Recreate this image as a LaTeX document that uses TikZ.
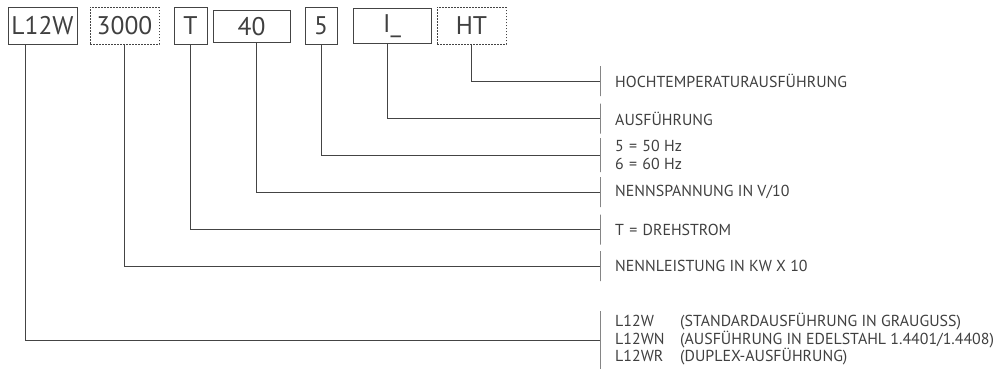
\documentclass[tikz,border=0pt]{standalone}
\usepackage{fontspec}
\setmainfont{PT Sans}
\definecolor{ink}{HTML}{404040}
\definecolor{wire}{HTML}{444444}
\begin{document}
\begin{tikzpicture}[x=1pt,y=1pt,
  codebox/.style={draw=wire, line width=0.9pt, inner sep=0pt, text=ink,
    font=\fontsize{25.5}{25.5}\selectfont},
  optbox/.style={codebox, dash pattern=on 1.6pt off 1.4pt},
  bar/.style={draw=wire, line width=0.9pt, inner sep=0pt, minimum width=0pt},
  lbl/.style={anchor=west, inner sep=0pt, text=ink, align=left,
    font=\fontsize{15.9}{17.5}\selectfont},
  wire/.style={draw=wire, line width=0.9pt}]
\useasboundingbox (0,0) rectangle (995,-369);

% code boxes
\node[codebox, minimum width=69pt, minimum height=37pt] (l12w) at (42.5,-25.8) {L12W};
\node[optbox,  minimum width=69pt, minimum height=37pt] (p3000) at (124.5,-25.8) {3000};
\node[codebox, minimum width=33pt, minimum height=37pt] (pT) at (190.5,-25.8) {T};
\node[codebox, minimum width=77pt, minimum height=32pt] (p40) at (251.5,-26.7) {40};
\node[codebox, minimum width=32pt, minimum height=37pt] (p5) at (321,-25.8) {5};
\node[codebox, minimum width=78pt, minimum height=35pt] (pI) at (392,-25.8) {I\_};
\node[optbox,  minimum width=69pt, minimum height=37pt] (pHT) at (471.5,-25.8) {HT};

% bars
\node[bar, minimum height=30pt] (bHT) at (600,-81) {};
\node[bar, minimum height=30pt] (bI) at (600,-118.5) {};
\node[bar, minimum height=34pt] (b5) at (600,-155) {};
\node[bar, minimum height=30pt] (b40) at (600,-192) {};
\node[bar, minimum height=30pt] (bT) at (600,-229.5) {};
\node[bar, minimum height=30pt] (b3000) at (600,-266) {};
\node[bar, minimum height=58pt] (bL) at (600,-340) {};

% labels
\node[lbl] (tHT) at (615,-81) {HOCHTEMPERATURAUSFÜHRUNG};
\node[lbl] (tI) at (615,-118.5) {AUSFÜHRUNG};
\node[lbl] (t5) at (615,-155) {5\,\,=\,\,50 Hz\\6\,\,=\,\,60 Hz};
\node[lbl] (t40) at (615,-192) {NENNSPANNUNG IN V/10};
\node[lbl] (tT) at (615,-229.5) {T\,\,=\,\,DREHSTROM};
\node[lbl] (t3000) at (615,-266) {NENNLEISTUNG IN KW X 10};
\node[lbl] (tL) at (615,-339.5) {\makebox[65pt][l]{L12W}(STANDARDAUSFÜHRUNG IN GRAUGUSS)\\
  \makebox[65pt][l]{L12WN}(AUSFÜHRUNG IN EDELSTAHL 1.4401/1.4408)\\
  \makebox[65pt][l]{L12WR}(DUPLEX-AUSFÜHRUNG)};

% connectors
\draw[wire] (pHT.south) |- (bHT.west);
\draw[wire] ([xshift=-4.3pt]pI.south) |- (bI.west);
\draw[wire] (p5.south) |- (b5.west);
\draw[wire] ([xshift=4.5pt]p40.south) |- (b40.west);
\draw[wire] (pT.south) |- (bT.west);
\draw[wire] (p3000.south) |- (b3000.west);
\draw[wire] ([xshift=-16.8pt]l12w.south) |- (bL.west);
\end{tikzpicture}
\end{document}
